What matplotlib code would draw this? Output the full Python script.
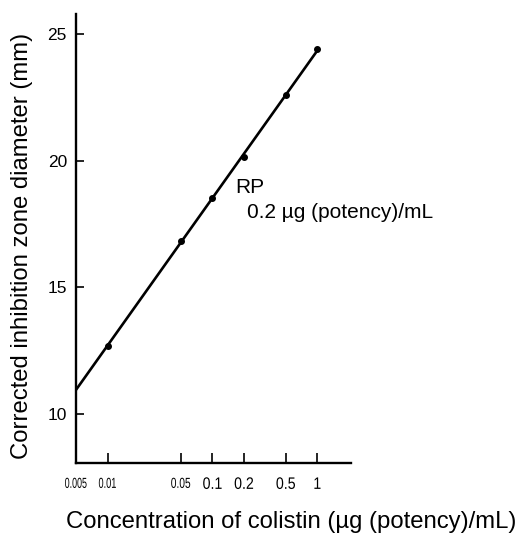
import numpy as np
import matplotlib
matplotlib.use("Agg")
import matplotlib.pyplot as plt
from matplotlib import font_manager as fm
from matplotlib.patheffects import AbstractPathEffect
from matplotlib.transforms import Affine2D

conc = [0.01, 0.05, 0.1, 0.2, 0.5, 1.0]
diam = [12.7, 16.85, 18.55, 20.15, 22.6, 24.4]
xtick_vals = [0.005, 0.01, 0.05, 0.1, 0.2, 0.5, 1]
xtick_labels = ["0.005", "0.01", "0.05", "0.1", "0.2", "0.5", "1"]
ytick_vals = [10, 15, 20, 25]

names = {f.name for f in fm.fontManager.ttflist}
base = "Liberation Sans" if "Liberation Sans" in names else "DejaVu Sans"
plt.rcParams["font.family"] = [base, "DejaVu Sans"]


class HSqueeze(AbstractPathEffect):
    """Horizontally compress a text path about its own centre."""

    def __init__(self, sx):
        super().__init__()
        self.sx = sx

    def draw_path(self, renderer, gc, tpath, affine, rgbFace=None):
        ext = tpath.get_extents()
        cx = (ext.x0 + ext.x1) / 2
        t = Affine2D().translate(-cx, 0).scale(self.sx, 1).translate(cx, 0) + affine
        renderer.draw_path(gc, tpath, t, rgbFace)


fig = plt.figure(figsize=(5.21, 5.36), dpi=100)
ax = fig.add_axes([0.1459, 0.1362, 0.5278, 0.8377])

ax.set_xscale("log")
ax.set_xlim(0.005, 2.1)
ax.set_ylim(8.07, 25.8)

# regression line through the calibration points
coef = np.polyfit(np.log10(conc), diam, 1)
xl = np.array([0.005, 1.0])
ax.plot(xl, coef[0] * np.log10(xl) + coef[1], color="black", lw=1.9, solid_capstyle="butt")
ax.plot(conc, diam, "o", color="black", ms=4)

for s in ["top", "right"]:
    ax.spines[s].set_visible(False)
for s in ["left", "bottom"]:
    ax.spines[s].set_linewidth(1.7)

ax.set_yticks(ytick_vals)
ax.set_yticklabels([str(v) for v in ytick_vals], fontsize=12.5)
ax.tick_params(axis="y", direction="in", length=6, width=1.2, pad=6.5)
ax.set_xticks(xtick_vals)
ax.set_xticklabels(xtick_labels)
ax.xaxis.set_minor_locator(matplotlib.ticker.NullLocator())
ax.tick_params(axis="x", direction="in", length=7, width=1.2, pad=10)
squeeze = [0.61, 0.63, 0.7, 0.85, 0.85, 0.85, 0.85]
sizes = [10.5, 10.5, 10.5, 12, 12, 12, 12]
for t, sx, fs in zip(ax.get_xticklabels(), squeeze, sizes):
    t.set_fontsize(fs)
    t.set_path_effects([HSqueeze(sx)])
ax.xaxis.get_major_ticks()[0].tick1line.set_visible(False)

fig.text(22 / 521, 1 - 246 / 536, "Corrected inhibition zone diameter (mm)",
         fontsize=17.2, rotation=90, ha="center", va="center")
fig.text(291 / 521, 1 - 522 / 536, "Concentration of colistin (\u00b5g (potency)/mL)",
         fontsize=17.2, ha="center", va="center")

ax.text(0.166, 18.72, "RP", fontsize=15, ha="left", va="baseline")
ax.text(0.215, 17.75, "0.2 \u00b5g (potency)/mL", fontsize=15, ha="left", va="baseline")

fig.savefig("out.png", dpi=100)
